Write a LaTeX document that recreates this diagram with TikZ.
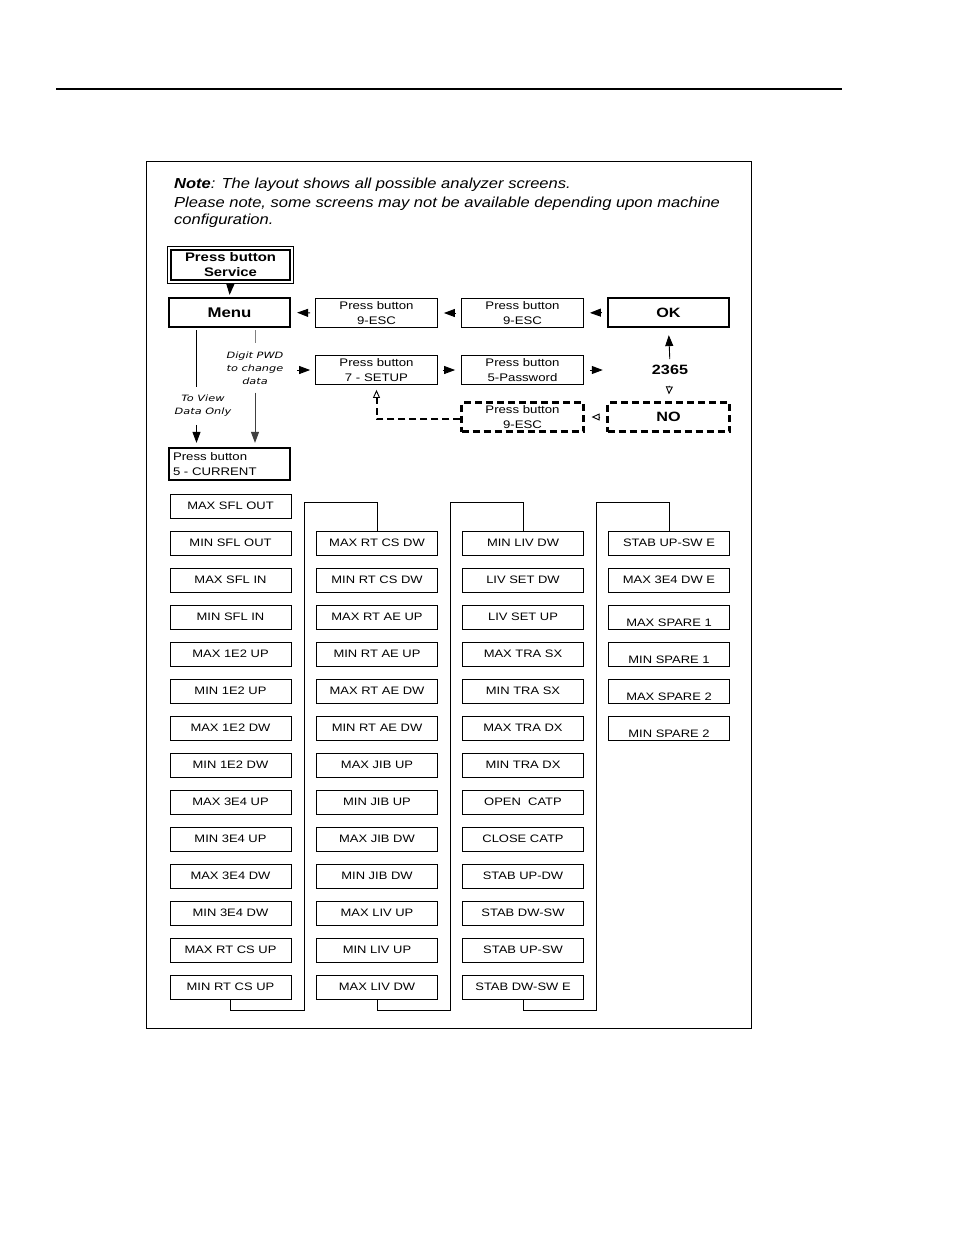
\documentclass[tikz,border=0pt]{standalone}
\usepackage{fontspec}
\setmainfont[FakeStretch=1.2]{Liberation Sans}
\newfontfamily\notefont[FakeStretch=1.14]{Liberation Sans}
\newfontfamily\hintfont[FakeStretch=1.3]{DejaVu Sans}
\usetikzlibrary{arrows.meta, calc, positioning}

\tikzset{
  btn/.style={draw, line width=0.8pt, minimum width=122pt, minimum height=29pt, inner sep=0pt, align=center, font=\fontsize{11}{14.5}\selectfont},
  thickbtn/.style={btn, line width=2.2pt, minimum width=121pt, font=\fontsize{14}{16}\selectfont\bfseries},
  dashbtn/.style={btn, line width=2.2pt, dash pattern=on 7pt off 4pt},
  scr/.style={draw, line width=0.8pt, minimum width=121pt, minimum height=24pt, inner sep=0pt, font=\fontsize{10.8}{12}\selectfont},
  fwd/.style={-{Triangle[length=11pt,width=8pt]}, line width=0.9pt},
  openfwd/.style={-{Triangle[open,length=8pt,width=7pt,line width=0.9pt]}, line width=0.9pt},
  hint/.style={align=center, inner sep=0pt, font=\hintfont\itshape\fontsize{8.7}{13}\selectfont},
  notetxt/.style={anchor=base west, inner sep=0pt, font=\notefont\itshape\fontsize{14.5}{18}\selectfont},
}

\begin{document}
\begin{tikzpicture}[x=1pt, y=-1pt]
  \useasboundingbox (0,0) rectangle (954,1235);

  % page rule and frame
  \draw[line width=1.3pt] (56,89) -- (842,89);
  \draw[line width=0.8pt] (146,161) rectangle (751,1028);

  % note
  \node[notetxt] (note1) at (174,188) {\textbf{Note}: The layout shows all possible analyzer screens.};
  \node[notetxt] (note2) at (174,207) {Please note, some screens may not be available depending upon machine};
  \node[notetxt] (note3) at (174,224) {configuration.};

  % top flow
  \node[btn, line width=1.8pt, minimum width=119pt, minimum height=30pt, font=\fontsize{12.4}{15}\selectfont\bfseries] (svc) at (230.5,265) {Press button\\Service};
  \draw[line width=0.8pt] ([shift={(-2.5,-2.5)}]svc.north west) rectangle ([shift={(2.5,2.5)}]svc.south east);

  \node[thickbtn] (menu) at (229.5,312.5) {Menu};
  \node[btn] (esc1) at (376.5,313) {Press button\\9-ESC};
  \node[btn] (esc2) at (522.5,313) {Press button\\9-ESC};
  \node[thickbtn, font=\fontsize{13.5}{15}\selectfont\bfseries] (ok) at (668.5,312.5) {OK};
  \node[btn] (setup) at (376.5,370) {Press button\\7 - SETUP};
  \node[btn] (pwd) at (522.5,370) {Press button\\5-Password};
  \node[font=\fontsize{13.5}{15}\selectfont\bfseries, inner sep=1pt] (code) at (670,370) {2365};
  \node[dashbtn] (esc3) at (522.5,417) {Press button\\9-ESC};
  \node[dashbtn, font=\fontsize{13.5}{15}\selectfont\bfseries] (no) at (668.5,417) {NO};
  \node[thickbtn, minimum height=32pt, text width=113pt, inner xsep=4pt, align=left, font=\fontsize{11}{15}\selectfont] (cur) at (229.5,464) {Press button\\5 - CURRENT};

  \node[hint] (pwdhint) at (255,368) {Digit PWD\\to change\\data};
  \node[hint] (viewhint) at (203,406) {To View\\Data Only};
  \coordinate (vline) at (196.5,328);
  \coordinate (pwdin) at (297,370);

  % arrows
  \draw[fwd, shorten <=4pt, shorten >=2pt] (svc.south) -- (menu.north);
  \foreach \a/\b in {esc1/menu, esc2/esc1, ok/esc2}
    \draw[fwd, shorten <=5pt, shorten >=6pt] (\a.west) -- (\b.east);
  \draw[fwd, shorten <=5pt, shorten >=6pt] (setup.east) -- (pwd.west);
  \draw[fwd, shorten <=6pt, shorten >=48pt] (pwd.east) -- (code.west);
  \draw[fwd, shorten <=5pt, shorten >=7pt] (code.north) -- (ok.south);
  \draw[openfwd, shorten <=10pt, shorten >=7pt] (code.south) -- (no.north);
  \draw[openfwd, shorten <=6pt, shorten >=7pt] (no.west) -- (esc3.east);
  \draw[openfwd, line width=2pt, dash pattern=on 7pt off 4pt, shorten >=5pt] ([yshift=-2]esc3.west) -| (setup.south);
  \draw[fwd, shorten >=5pt] (pwdin) -- (setup.west);

  % menu branches
  \draw[line width=0.8pt, shorten <=2pt, shorten >=8pt] (vline) -- (vline |- viewhint.north);
  \draw[fwd, shorten <=8pt, shorten >=4pt] (vline |- viewhint.south) -- (vline |- cur.north);
  \draw[line width=0.8pt, gray, shorten <=2pt, shorten >=8pt] (menu.south -| pwdhint.north) -- (pwdhint.north);
  \draw[fwd, black!75, shorten <=8pt, shorten >=4pt] (pwdhint.south) -- (pwdhint.south |- cur.north);

  % screen columns
  \foreach \t [count=\i] in {MAX SFL OUT, MIN SFL OUT, MAX SFL IN, MIN SFL IN, MAX 1E2 UP, MIN 1E2 UP, MAX 1E2 DW,
      MIN 1E2 DW, MAX 3E4 UP, MIN 3E4 UP, MAX 3E4 DW, MIN 3E4 DW, MAX RT CS UP, MIN RT CS UP}
    \node[scr] (a\i) at (230.5,469+37*\i) {\t};
  \foreach \t [count=\i] in {MAX RT CS DW, MIN RT CS DW, MAX RT AE UP, MIN RT AE UP, MAX RT AE DW, MIN RT AE DW,
      MAX JIB UP, MIN JIB UP, MAX JIB DW, MIN JIB DW, MAX LIV UP, MIN LIV UP, MAX LIV DW}
    \node[scr] (b\i) at (377,506+37*\i) {\t};
  \foreach \t [count=\i] in {MIN LIV DW, LIV SET DW, LIV SET UP, MAX TRA SX, MIN TRA SX, MAX TRA DX, MIN TRA DX,
      OPEN~ CATP, CLOSE CATP, STAB UP-DW, STAB DW-SW, STAB UP-SW, STAB DW-SW E}
    \node[scr] (c\i) at (523,506+37*\i) {\t};
  \node[scr] (d1) at (669,543) {STAB UP-SW E};
  \node[scr] (d2) at (669,580) {MAX 3E4 DW E};
  \foreach \t [count=\i from 3] in {MAX SPARE 1, MIN SPARE 1, MAX SPARE 2, MIN SPARE 2}
    \node[scr] (d\i) at (669,506+37*\i) {\raisebox{-9pt}[0pt][0pt]{\t}};

  % column links
  \foreach \a/\b in {a14/b1, b13/c1, c13/d1}
    \draw[line width=0.8pt] (\a.south) -- ++(0,10.5) -| ++(73.5,-508) -| (\b.north);
\end{tikzpicture}
\end{document}
